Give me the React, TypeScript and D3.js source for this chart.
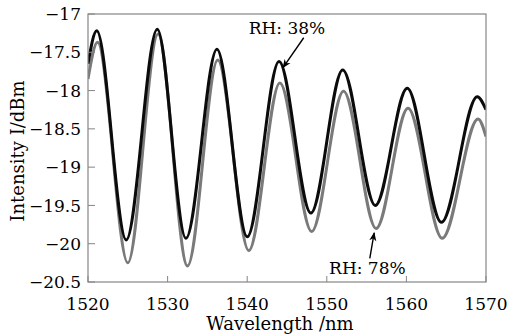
import React from "react";
import * as d3 from "d3";

// RH 38% trace (black): extrema
const wl38 = [1520, 1521.1, 1524.8, 1528.7, 1532.3, 1536.2, 1540.0, 1544.0, 1548.0, 1552.0, 1556.1, 1560.1, 1564.4, 1568.9, 1570];
const rh38 = [-17.65, -17.22, -19.95, -17.2, -19.93, -17.46, -19.91, -17.62, -19.6, -17.73, -19.5, -17.97, -19.72, -18.08, -18.25];

// RH 78% trace (gray)
const wl78 = [1520, 1521.2, 1525.0, 1528.8, 1532.5, 1536.3, 1540.2, 1544.1, 1548.1, 1552.1, 1556.2, 1560.2, 1564.5, 1569.0, 1570];
const rh78 = [-17.85, -17.37, -20.25, -17.26, -20.29, -17.6, -20.09, -17.9, -19.84, -18.01, -19.8, -18.23, -19.93, -18.37, -18.6];

const xTicks = [1520, 1530, 1540, 1550, 1560, 1570];
const yTicks = [-17, -17.5, -18, -18.5, -19, -19.5, -20, -20.5];

const W = 510;
const H = 336;
const margin = { left: 88, right: 24, top: 14, bottom: 54 };
const FONT = "'DejaVu Serif', serif";

export default function App() {
  const x = d3.scaleLinear().domain([1520, 1570]).range([margin.left, W - margin.right]);
  const y = d3.scaleLinear().domain([-20.5, -17]).range([H - margin.bottom, margin.top]);

  const line = d3
    .line<[number, number]>()
    .x((d) => x(d[0]))
    .y((d) => y(d[1]))
    .curve(d3.curveMonotoneX);

  const s38 = wl38.map((w, i) => [w, rh38[i]] as [number, number]);
  const s78 = wl78.map((w, i) => [w, rh78[i]] as [number, number]);

  const fmt = (v: number) => String(v).replace("-", "\u2212");
  const frame = "#858585";

  return (
    <svg
      width={W}
      height={H}
      style={{ position: "absolute", left: 0, top: 0, background: "#fff" }}
      fontFamily={FONT}
    >
      <defs>
        <marker id="arr" viewBox="0 0 10 10" refX="9" refY="5" markerWidth="9" markerHeight="9" orient="auto" markerUnits="userSpaceOnUse">
          <path d="M0,1 L10,5 L0,9 L3,5 Z" fill="#000" />
        </marker>
        <clipPath id="plot">
          <rect x={margin.left} y={margin.top - 10} width={W - margin.left - margin.right} height={H - margin.top - margin.bottom + 20} />
        </clipPath>
      </defs>

      {/* traces */}
      <g clipPath="url(#plot)" fill="none" strokeLinejoin="round">
        <path d={line(s78) ?? ""} stroke="#7a7a7a" strokeWidth={3} />
        <path d={line(s38) ?? ""} stroke="#0b0b0b" strokeWidth={3} />
      </g>

      {/* frame */}
      <rect
        x={margin.left}
        y={margin.top}
        width={W - margin.left - margin.right}
        height={H - margin.top - margin.bottom}
        fill="none"
        stroke={frame}
        strokeWidth={1.2}
      />

      {/* x ticks (inward) */}
      {xTicks.map((t) => (
        <g key={t}>
          <line x1={x(t)} x2={x(t)} y1={y(-20.5)} y2={y(-20.5) - 6} stroke={frame} strokeWidth={1} />
          <text x={x(t)} y={y(-20.5) + 28} textAnchor="middle" fontSize={17} fill="#000">
            {t}
          </text>
        </g>
      ))}

      {/* y ticks (inward) */}
      {yTicks.map((t) => (
        <g key={t}>
          <line x1={x(1520)} x2={x(1520) + 7} y1={y(t)} y2={y(t)} stroke={frame} strokeWidth={1} />
          <text x={81} y={y(t)} dy="0.36em" textAnchor="end" fontSize={17} fill="#000">
            {fmt(t)}
          </text>
        </g>
      ))}

      {/* axis titles */}
      <text x={280} y={330} textAnchor="middle" fontSize={18} fill="#000">
        Wavelength /nm
      </text>
      <text transform="translate(24,151) rotate(-90)" textAnchor="middle" fontSize={18} fill="#000">
        Intensity I/dBm
      </text>

      {/* annotations */}
      <text x={x(1545)} y={y(-17.26)} textAnchor="middle" fontSize={17} fill="#000">
        RH: 38%
      </text>
      <line x1={x(1547.1)} y1={y(-17.31)} x2={x(1544.5)} y2={y(-17.7)} stroke="#000" strokeWidth={1.4} markerEnd="url(#arr)" />

      <text x={x(1555.1)} y={y(-20.395)} textAnchor="middle" fontSize={17} fill="#000">
        RH: 78%
      </text>
      <line x1={x(1555.4)} y1={y(-20.19)} x2={x(1555.95)} y2={y(-19.86)} stroke="#000" strokeWidth={1.4} markerEnd="url(#arr)" />
    </svg>
  );
}
